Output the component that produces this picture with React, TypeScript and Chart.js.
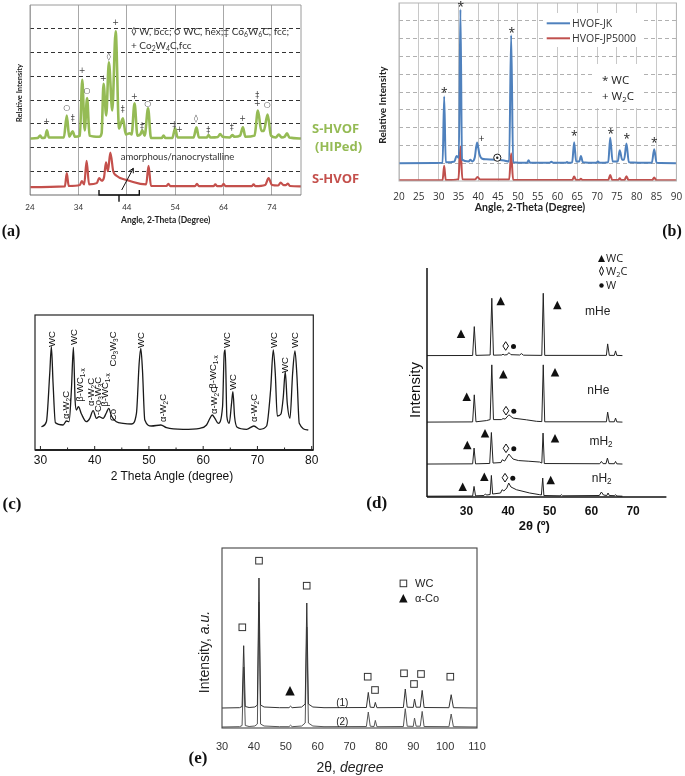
import React, { useEffect, useRef } from "react";
import { Chart, registerables } from "chart.js";

Chart.register(...registerables);

type Pt = [number, number];

/* ---------------- (a) ---------------- */
const aAngleTicks = [24, 34, 44, 54, 64, 74];
const aIntensityGrid = [1, 2, 3, 4, 5, 6, 7];
const aHIPed: Pt[] = [
  [24, 2.38], [25.6, 2.4], [26.1, 2.5], [26.5, 2.4], [27.1, 2.42], [27.5, 2.72], [27.9, 2.42],
  [31.0, 2.42], [31.6, 3.35], [32.1, 2.45], [32.8, 2.68], [33.3, 2.45], [34.3, 2.5], [34.8, 4.85],
  [35.3, 2.72], [35.8, 4.08], [36.3, 2.5], [38.3, 2.45], [38.8, 2.6], [39.2, 4.68], [39.75, 3.35],
  [40.3, 5.59], [41.0, 3.56], [41.7, 6.89], [42.4, 2.8], [43.2, 3.23], [43.8, 2.55], [44.6, 2.6],
  [45.0, 2.55], [45.6, 3.86], [46.2, 2.5], [46.8, 2.55], [47.2, 2.72], [47.7, 2.5], [48.4, 3.65],
  [49.0, 2.4], [51.2, 2.4], [51.6, 2.5], [52.0, 2.4], [53.4, 2.4], [54.0, 2.81], [54.5, 2.42],
  [57.8, 2.42], [58.4, 2.85], [58.9, 2.42], [60.5, 2.42], [60.9, 2.52], [61.3, 2.42], [62.8, 2.44],
  [63.3, 2.57], [63.8, 2.45], [65.3, 2.42], [65.8, 2.52], [66.3, 2.45], [67.4, 2.5], [68.0, 2.85],
  [68.5, 2.45], [70.4, 2.5], [71.1, 3.56], [71.8, 2.7], [72.3, 2.7], [73.1, 3.39], [73.8, 2.5],
  [74.8, 2.42], [75.4, 2.55], [76.0, 2.42], [76.6, 2.45], [77.1, 2.6], [77.6, 2.42], [80, 2.38],
];
const aSHVOF: Pt[] = [
  [24, 0.33], [31.2, 0.36], [31.6, 0.92], [32.0, 0.38], [34.3, 0.42], [34.7, 0.59], [35.2, 0.45],
  [35.7, 1.44], [36.2, 0.45], [37.8, 0.5], [38.3, 0.71], [38.8, 0.6], [39.3, 0.75], [39.7, 1.37],
  [40.1, 1.0], [40.6, 1.79], [41.2, 1.0], [41.8, 0.82], [44.0, 0.63], [46.8, 0.47], [48.0, 0.45],
  [48.5, 1.23], [49.0, 0.38], [52.2, 0.38], [52.6, 0.47], [53.0, 0.37], [58.1, 0.37], [58.5, 0.47],
  [58.9, 0.37], [61.9, 0.37], [62.3, 0.45], [62.7, 0.37], [63.6, 0.37], [64.0, 0.47], [64.4, 0.37],
  [69.8, 0.37], [70.2, 0.45], [70.6, 0.37], [72.6, 0.42], [73.3, 0.71], [74.0, 0.42], [75.3, 0.4],
  [75.8, 0.52], [76.4, 0.42], [76.9, 0.42], [77.3, 0.48], [77.7, 0.38], [80, 0.36],
];

/* ---------------- (b) ---------------- */
const bAngleTicks = [20, 25, 30, 35, 40, 45, 50, 55, 60, 65, 70, 75, 80, 85, 90];
const bIntensityGrid = [1, 2, 3, 4, 5, 6, 7, 8, 9];
const bJK: Pt[] = [
  [20, 1.0], [31.0, 1.02], [31.4, 4.75], [31.8, 1.05], [34.0, 1.1], [34.5, 1.41], [35.1, 1.3],
  [35.5, 9.64], [35.9, 1.2], [37.6, 1.1], [38.0, 1.19], [38.5, 1.1], [39.1, 1.3], [39.7, 2.16],
  [40.3, 1.5], [41.0, 1.25], [42.0, 1.22], [44.7, 1.2], [46.5, 1.15], [47.8, 1.1], [48.3, 8.19],
  [48.8, 1.05], [52.3, 1.02], [52.7, 1.17], [53.1, 1.02], [58.0, 1.02], [58.45, 1.08], [58.9, 1.02],
  [62.0, 1.02], [62.4, 1.07], [62.8, 1.02], [63.7, 1.05], [64.2, 2.18], [64.7, 1.1], [65.5, 1.1],
  [65.9, 1.41], [66.4, 1.05], [69.8, 1.02], [70.2, 1.1], [70.6, 1.02], [72.8, 1.05], [73.3, 2.43],
  [73.9, 1.1], [75.2, 1.1], [75.7, 1.73], [76.3, 1.2], [76.8, 1.2], [77.4, 2.1], [78.0, 1.05],
  [83.8, 1.02], [84.4, 1.79], [85.0, 1.02], [90, 1.0],
];
const bJP5000: Pt[] = [
  [20, 0.04], [31.0, 0.05], [31.4, 0.85], [31.8, 0.05], [35.0, 0.1], [35.5, 1.94], [36.0, 0.1],
  [39.2, 0.08], [39.8, 0.23], [40.5, 0.08], [47.8, 0.08], [48.3, 1.56], [48.8, 0.06], [63.7, 0.05],
  [64.2, 0.25], [64.7, 0.05], [65.5, 0.05], [65.9, 0.12], [66.3, 0.05], [72.8, 0.05], [73.3, 0.34],
  [73.8, 0.05], [75.3, 0.05], [75.7, 0.15], [76.1, 0.05], [76.9, 0.05], [77.4, 0.27], [77.9, 0.05],
  [83.9, 0.05], [84.4, 0.2], [84.9, 0.05], [90, 0.04],
];

/* ---------------- (c) ---------------- */
const cAngleTicks = [30, 40, 50, 60, 70, 80];
const cMinorTicks = [35, 45, 55, 65, 75];
const cPattern: Pt[] = [
  [30.18, 23.3], [31.1, 28.3], [31.72, 76.7], [32.02, 103.3], [32.33, 66.7], [32.76, 27.3],
  [34.17, 25], [34.8, 29], [35.28, 28.3], [35.71, 60], [36.08, 102.7], [36.39, 50], [36.64, 40],
  [37.0, 43.3], [37.56, 36], [38.48, 28.3], [39.1, 31.7], [39.71, 39.3], [40.33, 31.7], [40.81, 33.3],
  [41.55, 31.7], [42.17, 37.3], [42.6, 41.7], [43.09, 34], [44.0, 28.3], [45.24, 26.7], [46.78, 26],
  [47.7, 36.7], [48.2, 86.7], [48.5, 101.7], [48.81, 80], [49.24, 30], [50.47, 24], [52.2, 25],
  [53.24, 22.3], [56.3, 20.7], [59.39, 21.7], [60.62, 25], [61.24, 31.7], [61.66, 35], [62.16, 31.7],
  [62.77, 26.7], [63.57, 43.3], [63.88, 96.7], [64.07, 100], [64.37, 33.3], [64.8, 26.7], [65.23, 46.7],
  [65.48, 58.3], [65.79, 33.3], [66.27, 22.7], [68.0, 20.7], [69.35, 24], [70.46, 20.7], [71.69, 24],
  [72.43, 60], [72.92, 100], [73.29, 76.7], [73.66, 34], [74.34, 36], [74.77, 53.3], [75.13, 78.3],
  [75.5, 46.7], [76.0, 31.7], [76.49, 76.7], [76.92, 99], [77.29, 73.3], [77.71, 26.7], [79.37, 20],
];

/* ---------------- (d) ---------------- */
const dAngleTicks = [30, 40, 50, 60, 70];
const dMHe: Pt[] = [
  [20.55, 141.6], [31.5, 141.7], [31.9, 170.6], [32.3, 141.8], [35.7, 142.2], [36.1, 199], [36.5, 142],
  [38.5, 142.2], [38.8, 143], [39.1, 142.2], [39.8, 142.5], [40.2, 144.6], [40.7, 142.5], [42.8, 142.2],
  [43.2, 143.6], [43.7, 142], [48.1, 141.8], [48.45, 204], [48.8, 141.8], [63.6, 141.8], [63.9, 153.3],
  [64.3, 141.8], [65.5, 141.8], [65.8, 146.3], [66.1, 141.8], [67.45, 141.6],
];
const dNHe: Pt[] = [
  [20.55, 75], [31.5, 75.2], [31.9, 102.3], [32.3, 75.3], [34.8, 76.5], [35.7, 77.5], [36.1, 132.3],
  [36.5, 77.5], [38.4, 77.5], [38.8, 78.5], [39.3, 78], [40.2, 82.3], [41.2, 79], [44.4, 77.3],
  [46.8, 75.8], [48.1, 75.5], [48.45, 132.3], [48.8, 75.3], [63.6, 75.3], [63.9, 85], [64.3, 75.3],
  [65.5, 75.3], [65.8, 79], [66.1, 75.2], [67.45, 75],
];
const dMH2: Pt[] = [
  [20.55, 33], [31.5, 33.2], [31.85, 49], [32.2, 33.2], [35.6, 33.6], [36.0, 64.6], [36.4, 34],
  [38.3, 34.5], [38.6, 37.3], [39.2, 36], [40.2, 43], [41.2, 38], [42.5, 36.5], [45, 35.8], [47.6, 35],
  [48.1, 34], [48.4, 64], [48.7, 33.5], [62.0, 33.3], [62.4, 35.6], [62.8, 33.4], [63.5, 33.4],
  [63.85, 39], [64.2, 33.4], [65.5, 33.3], [65.8, 35.6], [66.1, 33.2], [67.45, 33],
];
const dNH2: Pt[] = [
  [20.55, 0.8], [31.5, 1], [31.84, 10.6], [32.2, 1.2], [34.2, 1.5], [34.56, 3], [34.9, 2], [35.7, 2.5],
  [36.0, 21.6], [36.3, 3], [38.2, 4], [38.56, 7.3], [39.0, 6], [39.7, 9], [40.16, 14], [40.7, 10],
  [42, 7.3], [45.2, 4], [47.6, 2.3], [48.0, 2], [48.32, 19], [48.6, 1.5], [52.5, 1.2], [52.8, 2.3],
  [53.1, 1.2], [61.9, 1.5], [62.4, 5], [62.9, 2], [63.7, 1.5], [64.0, 4], [64.3, 1.5], [65.5, 1.3],
  [65.8, 2.3], [66.1, 1], [67.45, 0.8],
];

/* ---------------- (e) ---------------- */
const eAngleTicks = [30, 40, 50, 60, 70, 80, 90, 100, 110];
const eSample1: Pt[] = [
  [30, 20], [35.5, 20.3], [36.3, 21.5], [36.8, 82.3], [37.3, 21.5], [38.5, 20.5], [40.3, 21], [41.1, 23],
  [41.6, 150], [42.1, 23], [43.2, 21], [48, 20.3], [51.0, 20.3], [51.5, 21.8], [52.0, 20.3], [55.0, 21],
  [56.1, 24], [56.6, 125], [57.1, 24], [58.5, 21], [62, 20.3], [75.3, 20.5], [75.9, 35.6], [76.5, 20.8],
  [77.7, 20.5], [78.1, 25.6], [78.6, 20.3], [86.9, 20.5], [87.5, 39], [88.1, 20.8], [90.0, 20.6],
  [90.4, 29], [90.9, 20.8], [92.2, 20.8], [92.8, 37.6], [93.4, 20.5], [101.2, 20.3], [101.9, 33.3],
  [102.6, 20.3], [110, 20],
];
const eSample2: Pt[] = [
  [30, 1], [35.5, 1.3], [36.3, 2.5], [36.8, 61], [37.3, 2.5], [38.5, 1.5], [40.3, 2], [41.1, 4],
  [41.6, 126], [42.1, 4], [43.2, 2], [48, 1.3], [51.0, 1.3], [51.5, 2.8], [52.0, 1.3], [55.0, 2],
  [56.1, 5], [56.6, 101], [57.1, 5], [58.5, 2], [62, 1.3], [75.3, 1.5], [75.9, 16], [76.5, 1.8],
  [77.7, 1.5], [78.1, 7.6], [78.6, 1.3], [86.9, 1.5], [87.5, 19.3], [88.1, 1.8], [90.0, 1.6], [90.4, 10],
  [90.9, 1.8], [92.2, 1.8], [92.8, 16.6], [93.4, 1.5], [101.2, 1.3], [101.9, 14], [102.6, 1.3], [110, 1],
];

/* ---------------- fonts ---------------- */
const LATO = "Lato, 'Open Sans', sans-serif";
const OPEN = "'Open Sans', Lato, sans-serif";
const ARIAL = "'Liberation Sans', Arial, sans-serif";
const SERIF = "'Liberation Serif', 'DejaVu Serif', serif";
const SYM = "'DejaVu Sans', sans-serif";

const AXIS_H = 34;
const PAD_X = 24;
const PAD_T = 4;

function Panel(props: any) {
  const { box, xRange, yRange, xTicks, yGrid = [], series, tick, xGrid, yGridStyle, decorate } = props;
  const ref = useRef<HTMLCanvasElement>(null);
  const [L, T, R, B] = box;
  const w = Math.round(R - L + 2 * PAD_X);
  const h = Math.round(B - T + PAD_T + AXIS_H);
  useEffect(() => {
    const chart = new Chart(ref.current as HTMLCanvasElement, {
      type: "line",
      data: {
        datasets: series.map((s: any) => ({
          data: s.data.map(([x, y]: Pt) => ({ x, y })),
          borderColor: s.color,
          borderWidth: s.width,
          pointRadius: 0,
          fill: false,
          tension: 0,
          cubicInterpolationMode: s.smooth ? "monotone" : "default",
        })),
      },
      options: {
        animation: false,
        responsive: false,
        devicePixelRatio: 1,
        events: [],
        layout: { padding: { left: PAD_X, right: w - PAD_X - (R - L), top: PAD_T, bottom: 0 } },
        plugins: { legend: { display: false }, tooltip: { enabled: false } },
        scales: {
          x: {
            type: "linear",
            min: xRange[0],
            max: xRange[1],
            afterBuildTicks: (s: any) => {
              s.ticks = xTicks.map((v: number) => ({ value: v }));
            },
            afterFit: (s: any) => {
              s.height = AXIS_H;
            },
            ticks: {
              font: tick.font,
              color: tick.color,
              padding: tick.pad,
              maxRotation: 0,
              minRotation: 0,
              autoSkip: false,
              callback: (v: any) => String(v),
            },
            grid: xGrid
              ? { display: true, color: xGrid.color, lineWidth: xGrid.width || 1, drawTicks: false }
              : { display: false, drawTicks: false },
            border: { display: false, dash: (xGrid && xGrid.dash) || [] },
          },
          y: {
            type: "linear",
            min: yRange[0],
            max: yRange[1],
            afterBuildTicks: (s: any) => {
              s.ticks = yGrid.map((v: number) => ({ value: v }));
            },
            afterFit: (s: any) => {
              s.width = 0;
            },
            ticks: { display: false },
            grid: yGridStyle
              ? { display: true, color: yGridStyle.color, lineWidth: yGridStyle.width || 1, drawTicks: false }
              : { display: false, drawTicks: false },
            border: { display: false, dash: (yGridStyle && yGridStyle.dash) || [] },
          },
        },
      },
      plugins: [
        {
          id: "decor",
          afterDraw: (c: any) => {
            if (decorate) decorate(c);
          },
        },
      ],
    } as any);
    return () => chart.destroy();
  }, []);
  return (
    <canvas
      ref={ref}
      width={w}
      height={h}
      style={{ position: "absolute", left: L - PAD_X, top: T - PAD_T, width: w, height: h }}
    />
  );
}

function line(ctx: any, x1: number, y1: number, x2: number, y2: number) {
  ctx.beginPath();
  ctx.moveTo(x1, y1);
  ctx.lineTo(x2, y2);
  ctx.stroke();
}

const decorA = (c: any) => {
  const { left, right, top, bottom } = c.chartArea;
  const ctx = c.ctx;
  ctx.save();
  ctx.strokeStyle = "#9a9a9a";
  ctx.lineWidth = 1;
  line(ctx, left, top, right, top);
  line(ctx, left, top, left, bottom);
  line(ctx, right, top, right, bottom);
  ctx.strokeStyle = "#6a6a6a";
  line(ctx, left, bottom, right, bottom);
  ctx.restore();
};
const decorB = (c: any) => {
  const { left, right, top, bottom } = c.chartArea;
  const ctx = c.ctx;
  ctx.save();
  ctx.strokeStyle = "#b4b4b4";
  ctx.lineWidth = 1;
  ctx.strokeRect(left, top, right - left, bottom - top);
  ctx.restore();
};
const decorC = (c: any) => {
  const { left, right, top, bottom } = c.chartArea;
  const ctx = c.ctx;
  const xs = c.scales.x;
  ctx.save();
  ctx.strokeStyle = "#222";
  ctx.lineWidth = 1.2;
  ctx.strokeRect(left, top, right - left, bottom - top);
  ctx.lineWidth = 1.8;
  line(ctx, left, bottom, right, bottom);
  ctx.lineWidth = 1;
  cAngleTicks.forEach((v) => {
    const px = xs.getPixelForValue(v);
    line(ctx, px, bottom, px, bottom - 4);
  });
  cMinorTicks.forEach((v) => {
    const px = xs.getPixelForValue(v);
    line(ctx, px, bottom, px, bottom - 2.5);
  });
  ctx.restore();
};
const decorD = (c: any) => {
  const { left, right, top, bottom } = c.chartArea;
  const ctx = c.ctx;
  ctx.save();
  ctx.strokeStyle = "#111";
  ctx.lineWidth = 1.5;
  line(ctx, left, top, left, bottom);
  line(ctx, left, bottom, right, bottom);
  ctx.restore();
};
const decorE = (c: any) => {
  const { left, right, top, bottom } = c.chartArea;
  const ctx = c.ctx;
  ctx.save();
  ctx.strokeStyle = "#444";
  ctx.lineWidth = 1.1;
  ctx.strokeRect(left, top, right - left, bottom - top);
  ctx.restore();
};

function Txt(p: any) {
  const { x, y, size, family = ARIAL, weight = 400, color = "#222", rot = false, align = "center", italic = false, children } = p;
  const tx = align === "left" ? "0%" : "-50%";
  return (
    <div
      style={{
        position: "absolute",
        left: x,
        top: y,
        transform: `translate(${tx},-50%)${rot ? " rotate(-90deg)" : ""}`,
        fontFamily: family,
        fontSize: size,
        fontWeight: weight,
        fontStyle: italic ? "italic" : "normal",
        color,
        whiteSpace: "nowrap",
        lineHeight: 1.15,
      }}
    >
      {children}
    </div>
  );
}

const Sub = ({ children }: any) => (
  <span style={{ fontSize: "0.68em", position: "relative", top: "0.3em" }}>{children}</span>
);

const GREEN = "#95bb55";
const RED_A = "#c4504c";
const BLUE = "#4f81bd";
const RED_B = "#c0504d";

export default function App() {
  const aMarks: any[] = [
    ["+", 46.7, 122], ["○", 66.7, 108], ["‡", 72.7, 119], ["+", 82, 71], ["○", 87, 91], ["+", 103.3, 79],
    ["◊", 108.7, 57], ["+", 115.7, 23], ["‡", 122.7, 110], ["+", 134.3, 97], ["‡", 142, 127], ["○", 147.7, 104],
    ["‡", 174.3, 126], ["+", 179.3, 130], ["◊", 196, 119], ["‡", 208.3, 131], ["‡", 231.7, 128], ["+", 242.7, 119],
    ["‡", 257.3, 96], ["+", 257.3, 104], ["○", 267.3, 105],
  ];
  const bStars: any[] = [[444.3, 91], [460.7, 5], [511.7, 31], [574.3, 134], [610.7, 132], [626.7, 136.7], [654.3, 141.3]];
  const W2C = <>α-W<Sub>2</Sub>C</>;
  const BWC = <>β-WC<Sub>1-x</Sub></>;
  const CO = <>Co<Sub>3</Sub>W<Sub>3</Sub>C</>;
  const cLabels: any[] = [
    ["WC", 51.7, 339], [W2C, 66, 405], ["WC", 73.7, 337], [BWC, 80, 385], [W2C, 90.7, 392],
    [<>-{CO}</>, 98.3, 396], [BWC, 105, 390], ["Co", 113, 415], [CO, 113.3, 349], ["WC", 141, 340],
    [W2C, 163.3, 408], [W2C, 214.3, 400], [BWC, 213.3, 372], ["WC", 226.7, 340], ["WC", 233.3, 382],
    [W2C, 254.3, 408], ["WC", 274.3, 340], ["WC", 285, 365], ["WC", 295.3, 340],
  ];
  const dTri: any[] = [
    [500.7, 301], [557.3, 305], [461, 333.7], [466.7, 396.7], [503.3, 374.3], [555, 372.3],
    [467.3, 445], [485, 433.3], [555, 438.3], [462.7, 486.7], [484.3, 476.7], [550.7, 480],
  ];
  const dDiaDot: any[] = [[505.7, 346], [506, 410.7], [506, 448.3], [505, 477.7]];
  const eSq: any[] = [
    [242.3, 627.3], [259, 560.7], [306.7, 585.7], [367.7, 676.7], [375, 690], [404, 673.3],
    [414, 684], [421, 674], [450.3, 676.7],
  ];
  const tri = (cx: number, cy: number, s: number) =>
    `${cx},${cy - s / 2} ${cx + s / 2},${cy + s / 2} ${cx - s / 2},${cy + s / 2}`;

  return (
    <div style={{ position: "absolute", left: 0, top: 0, width: 685, height: 776, overflow: "hidden", background: "#fff" }}>
      <Panel
        box={[30, 5, 301, 194.8]}
        xRange={[24, 80]}
        yRange={[0, 8]}
        xTicks={aAngleTicks}
        yGrid={aIntensityGrid}
        series={[
          { data: aHIPed, color: GREEN, width: 2.6, smooth: true },
          { data: aSHVOF, color: RED_A, width: 2.2, smooth: true },
        ]}
        tick={{ font: { family: LATO, size: 8 }, color: "#333", pad: 8 }}
        xGrid={{ color: "#a8a8a8" }}
        yGridStyle={{ color: "#333", dash: [4, 3] }}
        decorate={decorA}
      />
      <Panel
        box={[399.3, 2.5, 676.7, 180]}
        xRange={[20, 90]}
        yRange={[0, 10]}
        xTicks={bAngleTicks}
        yGrid={bIntensityGrid}
        series={[
          { data: bJK, color: BLUE, width: 2, smooth: true },
          { data: bJP5000, color: RED_B, width: 2, smooth: true },
        ]}
        tick={{ font: { family: OPEN, size: 10 }, color: "#333", pad: 10 }}
        xGrid={{ color: "#c8c8c8" }}
        yGridStyle={{ color: "#b0b0b0", dash: [4, 3] }}
        decorate={decorB}
      />
      <Panel
        box={[35, 315, 313.3, 450]}
        xRange={[29, 80.3]}
        yRange={[0, 135]}
        xTicks={cAngleTicks}
        series={[{ data: cPattern, color: "#1a1a1a", width: 1.3, smooth: true }]}
        tick={{ font: { family: ARIAL, size: 12 }, color: "#111", pad: 3 }}
        decorate={decorC}
      />
      <Panel
        box={[427.3, 268, 666.7, 497.3]}
        xRange={[20.55, 78]}
        yRange={[0, 229.3]}
        xTicks={dAngleTicks}
        series={[
          { data: dMHe, color: "#222", width: 1 },
          { data: dNHe, color: "#222", width: 1 },
          { data: dMH2, color: "#222", width: 1 },
          { data: dNH2, color: "#222", width: 1 },
        ]}
        tick={{ font: { family: ARIAL, size: 12, weight: "bold" }, color: "#111", pad: 7 }}
        decorate={decorD}
      />
      <Panel
        box={[221.7, 548.3, 476.7, 728.3]}
        xRange={[30, 110]}
        yRange={[0, 180]}
        xTicks={eAngleTicks}
        series={[
          { data: eSample1, color: "#333", width: 1 },
          { data: eSample2, color: "#555", width: 1 },
        ]}
        tick={{ font: { family: ARIAL, size: 11 }, color: "#333", pad: 12 }}
        decorate={decorE}
      />

      {/* (b) legend boxes */}
      <div style={{ position: "absolute", left: 543, top: 13, width: 99, height: 34, background: "#fff" }} />
      <div style={{ position: "absolute", left: 592, top: 64, width: 50, height: 44, background: "#fff" }} />

      <svg width={685} height={776} style={{ position: "absolute", left: 0, top: 0 }}>
        {/* (a) brace and arrow */}
        <path d="M99 190 V195 H139.3 V190 M119 195 V201.7" stroke="#111" strokeWidth={1.4} fill="none" />
        <line x1={121.7} y1={190} x2={133.3} y2={168.3} stroke="#111" strokeWidth={1} />
        <path d="M129.15 171.1 L133.3 168.3 L133.3 173.3" stroke="#111" strokeWidth={1} fill="none" />
        {/* (b) legend lines and ⊙ */}
        <line x1={546.7} y1={23.3} x2={570} y2={23.3} stroke={BLUE} strokeWidth={2} />
        <line x1={546.7} y1={38.3} x2={570} y2={38.3} stroke={RED_B} strokeWidth={2} />
        <circle cx={497.3} cy={157.7} r={3.6} stroke="#222" strokeWidth={1} fill="#fff" />
        <circle cx={497.3} cy={157.7} r={1.2} fill="#222" />
        {/* (d) markers */}
        {dTri.map(([x, y], i) => (
          <polygon key={"dt" + i} points={tri(x, y, 8.5)} fill="#111" />
        ))}
        {dDiaDot.map(([x, y], i) => (
          <g key={"dd" + i}>
            <polygon points={`${x},${y - 4.3} ${x + 2.8},${y} ${x},${y + 4.3} ${x - 2.8},${y}`} fill="none" stroke="#111" strokeWidth={1} />
            <circle cx={x + 7.8} cy={y + 0.5} r={2.5} fill="#111" />
          </g>
        ))}
        {/* (d) legend symbols */}
        <polygon points={tri(601.5, 258.5, 7)} fill="#111" />
        <polygon points="601.5,266.5 603.5,271 601.5,275.5 599.5,271" fill="none" stroke="#111" strokeWidth={1} />
        <circle cx={601.5} cy={285.5} r={2.2} fill="#111" />
        {/* (e) markers */}
        {eSq.map(([x, y], i) => (
          <rect key={"es" + i} x={x - 3.3} y={y - 3.3} width={6.6} height={6.6} fill="#fff" stroke="#333" strokeWidth={1} />
        ))}
        <polygon points={tri(290, 690.7, 9.5)} fill="#111" />
        <rect x={400.1} y={580.1} width={6.6} height={6.6} fill="#fff" stroke="#333" strokeWidth={1} />
        <polygon points={tri(403.3, 598.3, 8.5)} fill="#111" />
      </svg>

      {/* ---------- (a) texts ---------- */}
      <Txt x={131} y={32} size={10} family={LATO} color="#333" align="left">
        ◊ W, bcc; ○ WC, hex;‡ Co<Sub>6</Sub>W<Sub>6</Sub>C, fcc;
      </Txt>
      <Txt x={131} y={45.5} size={10} family={LATO} color="#333" align="left">
        + Co<Sub>2</Sub>W<Sub>4</Sub>C,fcc
      </Txt>
      {aMarks.map(([t, x, y], i) => (
        <Txt key={"am" + i} x={x} y={y} size={8} family={SYM} color="#444">
          {t}
        </Txt>
      ))}
      <Txt x={312} y={128} size={13} family={OPEN} weight={700} color={GREEN} align="left">S-HVOF</Txt>
      <Txt x={315} y={146} size={13} family={OPEN} weight={700} color={GREEN} align="left">(HIPed)</Txt>
      <Txt x={312} y={178} size={13} family={OPEN} weight={700} color={RED_A} align="left">S-HVOF</Txt>
      <Txt x={120.7} y={157.3} size={9.5} family={LATO} color="#333" align="left">amorphous/nanocrystalline</Txt>
      <Txt x={165.7} y={221} size={8.5} family={LATO} weight={700} color="#222">Angle, 2-Theta (Degree)</Txt>
      <Txt x={20} y={93} size={7.5} family={LATO} weight={700} color="#222" rot>Relative Intensity</Txt>
      <Txt x={11} y={231} size={16} family={SERIF} weight={700} color="#111">(a)</Txt>

      {/* ---------- (b) texts ---------- */}
      <Txt x={572} y={23.3} size={10.5} family={OPEN} color="#333" align="left">HVOF-JK</Txt>
      <Txt x={572} y={38.3} size={10.5} family={OPEN} color="#333" align="left">HVOF-JP5000</Txt>
      <Txt x={602} y={80} size={11.5} family={OPEN} color="#222" align="left">* WC</Txt>
      <Txt x={602} y={96} size={11.5} family={OPEN} color="#222" align="left">+ W<Sub>2</Sub>C</Txt>
      {bStars.map(([x, y], i) => (
        <Txt key={"bs" + i} x={x} y={y + 2} size={12} family={OPEN} color="#222">*</Txt>
      ))}
      <Txt x={481.7} y={139.3} size={10} family={OPEN} color="#222">+</Txt>
      <Txt x={530} y={207.3} size={10.5} family={LATO} weight={700} color="#222">Angle, 2-Theta (Degree)</Txt>
      <Txt x={383} y={105} size={10} family={LATO} weight={700} color="#222" rot>Relative Intensity</Txt>
      <Txt x={672} y={231} size={16} family={SERIF} weight={700} color="#111">(b)</Txt>

      {/* ---------- (c) texts ---------- */}
      {cLabels.map(([t, x, y], i) => (
        <Txt key={"cl" + i} x={x} y={y} size={9.5} family={ARIAL} color="#111" rot>
          {t}
        </Txt>
      ))}
      <Txt x={172} y={476.7} size={12} family={ARIAL} color="#111">2 Theta Angle (degree)</Txt>
      <Txt x={12} y={504} size={17} family={SERIF} weight={700} color="#111">(c)</Txt>

      {/* ---------- (d) texts ---------- */}
      <Txt x={606} y={258.3} size={11} family={OPEN} color="#222" align="left">WC</Txt>
      <Txt x={606} y={271} size={11} family={OPEN} color="#222" align="left">W<Sub>2</Sub>C</Txt>
      <Txt x={606} y={285} size={11} family={OPEN} color="#222" align="left">W</Txt>
      <Txt x={597.7} y={311.7} size={12} family={ARIAL} color="#222">mHe</Txt>
      <Txt x={598.3} y={391} size={12} family={ARIAL} color="#222">nHe</Txt>
      <Txt x={601} y={441.7} size={12} family={ARIAL} color="#222">mH<Sub>2</Sub></Txt>
      <Txt x={601.7} y={479} size={12} family={ARIAL} color="#222">nH<Sub>2</Sub></Txt>
      <Txt x={415} y={390} size={15} family={ARIAL} color="#111" rot>Intensity</Txt>
      <Txt x={534.3} y={526} size={13} family={ARIAL} weight={700} color="#111">2θ (º)</Txt>
      <Txt x={376.7} y={503.3} size={17} family={SERIF} weight={700} color="#111">(d)</Txt>

      {/* ---------- (e) texts ---------- */}
      <Txt x={415} y={583.3} size={11} family={ARIAL} color="#222" align="left">WC</Txt>
      <Txt x={415} y={598.3} size={11} family={ARIAL} color="#222" align="left">α-Co</Txt>
      <Txt x={342.3} y={702.7} size={10} family={ARIAL} color="#222">(1)</Txt>
      <Txt x={342.3} y={721.7} size={10} family={ARIAL} color="#222">(2)</Txt>
      <Txt x={204} y={652} size={14} family={ARIAL} color="#222" rot>
        Intensity, <i>a.u.</i>
      </Txt>
      <Txt x={350} y={766.7} size={14} family={ARIAL} color="#222">
        2θ, <i>degree</i>
      </Txt>
      <Txt x={198} y={758} size={17} family={SERIF} weight={700} color="#111">(e)</Txt>
    </div>
  );
}
